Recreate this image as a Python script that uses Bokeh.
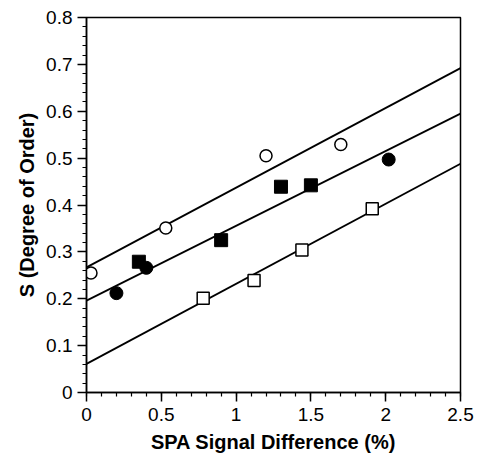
from bokeh.plotting import figure
from bokeh.models import Range1d, SingleIntervalTicker, NumeralTickFormatter
from bokeh.embed import file_html
from bokeh.resources import INLINE

# Data
open_circle_x = [0.03, 0.53, 1.20, 1.70]
open_circle_y = [0.255, 0.351, 0.505, 0.529]
filled_circle_x = [0.20, 0.40, 2.02]
filled_circle_y = [0.212, 0.266, 0.497]
filled_square_x = [0.35, 0.90, 1.30, 1.50]
filled_square_y = [0.279, 0.325, 0.439, 0.442]
open_square_x = [0.78, 1.12, 1.44, 1.91]
open_square_y = [0.201, 0.239, 0.304, 0.392]

fit_x = [0.0, 2.5]
fit_top_y = [0.267, 0.692]
fit_mid_y = [0.196, 0.595]
fit_low_y = [0.061, 0.488]

x_label = "SPA Signal Difference (%)"
y_label = "S (Degree of Order)"

FONT = "Liberation Sans"

p = figure(width=478, height=457, output_backend="svg", toolbar_location=None,
           x_range=Range1d(0, 2.5), y_range=Range1d(0, 0.8),
           min_border_left=86, min_border_right=18, min_border_top=17, min_border_bottom=65)
p.background_fill_color = "white"
p.border_fill_color = "white"
p.outline_line_color = "black"
p.outline_line_width = 1.5
p.grid.visible = False

for ys in (fit_top_y, fit_mid_y, fit_low_y):
    p.line(fit_x, ys, line_color="black", line_width=1.8)

p.scatter(open_circle_x, open_circle_y, marker="circle", size=12, fill_color="white",
          line_color="black", line_width=1.5)
p.scatter(filled_circle_x, filled_circle_y, marker="circle", size=13, fill_color="black",
          line_color="black")
p.scatter(filled_square_x, filled_square_y, marker="square", size=13, fill_color="black",
          line_color="black")
p.scatter(open_square_x, open_square_y, marker="square", size=12, fill_color="white",
          line_color="black", line_width=1.5)

p.xaxis.ticker = SingleIntervalTicker(interval=0.5, num_minor_ticks=5)
p.yaxis.ticker = SingleIntervalTicker(interval=0.1, num_minor_ticks=5)
for ax in (p.xaxis[0], p.yaxis[0]):
    ax.formatter = NumeralTickFormatter(format="0.[0]")
    ax.axis_line_width = 1.5
    ax.axis_line_color = "black"
    ax.major_tick_line_width = 1.5
    ax.minor_tick_line_width = 1.2
    ax.major_tick_in = 0
    ax.major_tick_out = 9
    ax.minor_tick_in = 0
    ax.minor_tick_out = 4
    ax.major_label_text_font = FONT
    ax.major_label_text_font_size = "19px"
    ax.major_label_text_color = "black"
    ax.axis_label_text_font = FONT
    ax.axis_label_text_font_size = "20px"
    ax.axis_label_text_font_style = "bold"
    ax.axis_label_text_color = "black"

p.xaxis.axis_label = x_label
p.yaxis.axis_label = y_label
p.xaxis.major_label_standoff = 6
p.xaxis.axis_label_standoff = 7
p.yaxis.major_label_standoff = 5
p.yaxis.axis_label_standoff = 5

open("out.html", "w").write(file_html(p, INLINE))
